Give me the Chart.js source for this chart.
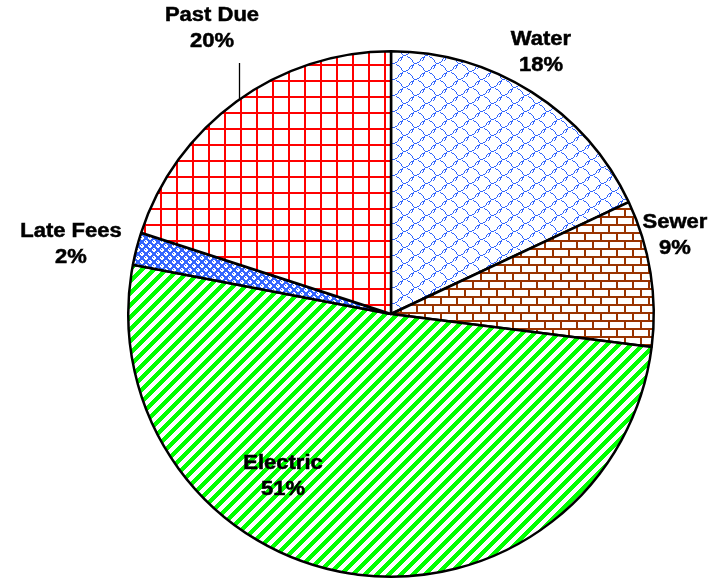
<!DOCTYPE html>
<html>
<head>
<meta charset="utf-8">
<script src="https://cdn.jsdelivr.net/npm/chart.js"></script>
<style>
  html, body { margin: 0; padding: 0; background: #fff; }
  #wrap { width: 715px; height: 580px; }
</style>
</head>
<body>
<div id="wrap"><canvas id="chart" width="715" height="580"></canvas></div>
<script>
// Datos (porcentajes, sentido horario desde las 12)
const categorias = ['Water', 'Sewer', 'Electric', 'Late Fees', 'Past Due'];
const valores = [18, 9, 51, 2, 20];
const etiquetas = ['18%', '9%', '51%', '2%', '20%'];

// Posicion de las etiquetas (px en el lienzo)
const posEtiquetas = [[541, 52], [675, 235], [283, 476], [71, 244], [212, 28]];

// Tramas tipo Excel
function trama(w, h, fondo, dibujar) {
  const c = document.createElement('canvas');
  c.width = w; c.height = h;
  const g = c.getContext('2d');
  g.fillStyle = fondo;
  g.fillRect(0, 0, w, h);
  dibujar(g);
  return g.createPattern(c, 'repeat');
}

const azul = '#3366ff';

// escamas azules
const tramaWater = trama(22, 16, '#fff', g => {
  g.fillStyle = azul;
  const escama = [[0,0],[1,1],[2,1],[3,2],[4,3],[5,4],[5,5],[6,6],[7,7],[8,7],[9,7],[10,6],[11,6],[12,5],[13,4],[13,3],[14,2],[15,1],[16,1],[17,0]];
  const gancho = [[6,8],[6,9],[5,10],[5,11],[4,12]];
  [[0, 0], [11, 8]].forEach(([dx, dy]) => {
    escama.concat(gancho).forEach(([x, y]) => g.fillRect((x + dx) % 22, (y + dy) % 16, 1, 1));
  });
});

const tramaSewer = trama(16, 16, '#fff', g => {
  g.fillStyle = '#993300';
  g.fillRect(0, 0, 16, 2);
  g.fillRect(0, 8, 16, 2);
  g.fillRect(0, 2, 2, 6);
  g.fillRect(8, 10, 2, 6);
});

// rayas diagonales "/"
const tramaElectric = trama(12, 12, '#fff', g => {
  g.fillStyle = '#00ff00';
  for (let y = 0; y < 12; y++) {
    for (let k = 0; k < 6; k++) g.fillRect((12 - y + k) % 12, y, 1, 1);
  }
});

const tramaLate = trama(8, 8, azul, g => {
  g.fillStyle = '#fff';
  [[0, 0], [4, 4]].forEach(([x, y]) => {
    g.fillRect(x + 1, y, 2, 4);
    g.fillRect(x, y + 1, 4, 2);
  });
  g.fillStyle = azul;
  g.fillRect(1, 1, 1, 1);
  g.fillRect(5, 5, 1, 1);
});

const tramaPast = trama(16, 16, '#fff', g => {
  g.fillStyle = '#ff0000';
  g.fillRect(0, 0, 16, 2);
  g.fillRect(0, 0, 2, 16);
});

const tramas = [tramaWater, tramaSewer, tramaElectric, tramaLate, tramaPast];

// Etiquetas con linea guia (Past Due)
const pluginEtiquetas = {
  id: 'etiquetas',
  afterDraw(chart) {
    const ctx = chart.ctx;
    const arc0 = chart.getDatasetMeta(0).data[0];
    const cx = arc0.x, cy = arc0.y, r = arc0.outerRadius;
    ctx.save();
    // linea guia de Past Due
    const lx = posEtiquetas[4][0] + 27;
    const ly = cy - Math.sqrt(r * r - (lx - cx) * (lx - cx));
    ctx.strokeStyle = '#000';
    ctx.lineWidth = 1.3;
    ctx.beginPath();
    ctx.moveTo(lx + 0.5, posEtiquetas[4][1] + 35);
    ctx.lineTo(lx + 0.5, ly);
    ctx.stroke();

    ctx.fillStyle = '#000';
    ctx.strokeStyle = '#000';
    ctx.lineWidth = 0.5;
    ctx.font = 'bold 20px "Liberation Sans", Arial, sans-serif';
    ctx.textAlign = 'center';
    ctx.textBaseline = 'middle';
    categorias.forEach((cat, i) => {
      const [x, y] = posEtiquetas[i];
      ctx.save();
      ctx.translate(x, y);
      ctx.scale(1.1, 1);
      [[cat, -13], [etiquetas[i], 13]].forEach(([t, dy]) => {
        ctx.fillText(t, 0, dy);
        ctx.strokeText(t, 0, dy);
      });
      ctx.restore();
    });
    ctx.restore();
  }
};

new Chart(document.getElementById('chart').getContext('2d'), {
  type: 'pie',
  data: {
    labels: categorias,
    datasets: [{
      data: valores,
      backgroundColor: tramas,
      borderColor: '#000',
      borderWidth: 2.5
    }]
  },
  options: {
    responsive: false,
    devicePixelRatio: 1,
    animation: false,
    layout: { padding: { left: 126, right: 59, top: 50, bottom: 2 } },
    plugins: {
      legend: { display: false },
      tooltip: { enabled: false }
    }
  },
  plugins: [pluginEtiquetas]
});
</script>
</body>
</html>
